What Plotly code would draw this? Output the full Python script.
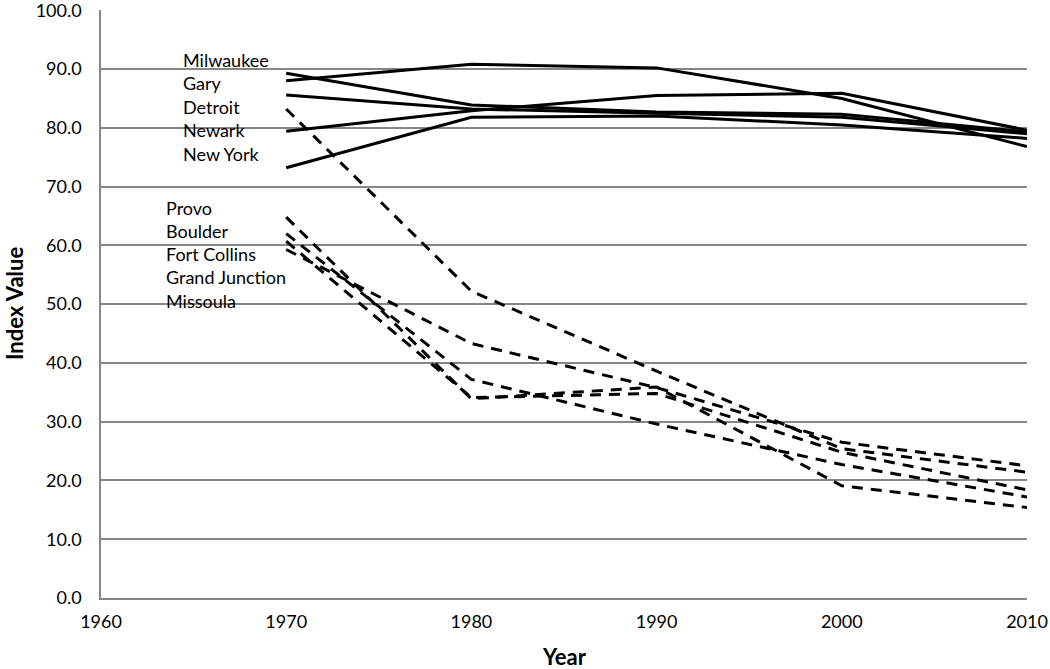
import plotly.graph_objects as go

years = [1970, 1980, 1990, 2000, 2010]

solid_names = ["Milwaukee", "Gary", "Detroit", "Newark", "New York"]
solid_values = [
    [88.0, 90.8, 90.2, 85.0, 76.8],
    [89.3, 83.9, 82.7, 82.3, 79.3],
    [85.6, 83.2, 82.5, 81.8, 79.0],
    [79.4, 82.9, 85.5, 85.9, 79.6],
    [73.2, 81.8, 82.0, 80.5, 78.2],
]

dashed_names = ["Provo", "Boulder", "Fort Collins", "Grand Junction", "Missoula"]
dashed_values = [
    [83.2, 52.2, 38.6, 25.4, 21.4],
    [64.8, 33.9, 35.9, 19.1, 15.4],
    [62.0, 37.2, 29.6, 22.7, 17.2],
    [60.7, 34.1, 34.8, 24.8, 18.4],
    [59.3, 43.3, 35.8, 26.5, 22.5],
]

solid_label_y = [91.5, 87.6, 83.6, 79.7, 75.6]
dashed_label_y = [66.4, 62.5, 58.6, 54.6, 50.5]

x_ticks = [1960, 1970, 1980, 1990, 2000, 2010]
y_ticks = [0, 10, 20, 30, 40, 50, 60, 70, 80, 90, 100]

FONT = "Lato, 'Open Sans', sans-serif"

fig = go.Figure()
for name, vals in zip(solid_names, solid_values):
    fig.add_trace(go.Scatter(x=years, y=vals, mode="lines", name=name,
                             line=dict(color="black", width=3)))
for name, vals in zip(dashed_names, dashed_values):
    fig.add_trace(go.Scatter(x=years, y=vals, mode="lines", name=name,
                             line=dict(color="black", width=3, dash="11px,8px")))

annotations = []
for name, y in zip(solid_names, solid_label_y):
    annotations.append(dict(x=1964.3, y=y, xref="x", yref="y", text=name,
                            showarrow=False, xanchor="left", yanchor="middle",
                            font=dict(family=FONT, size=18, color="black")))
for name, y in zip(dashed_names, dashed_label_y):
    annotations.append(dict(x=1963.4, y=y, xref="x", yref="y", text=name,
                            showarrow=False, xanchor="left", yanchor="middle",
                            font=dict(family=FONT, size=18, color="black")))

# axis titles
annotations.append(dict(x=0.5, y=0, xref="paper", yref="paper", yshift=-43,
                        text="<b>Year</b>", showarrow=False, xanchor="center", yanchor="top",
                        font=dict(family=FONT, size=22, color="black")))
annotations.append(dict(x=0, y=0.5, xref="paper", yref="paper", xshift=-87,
                        text="<b>Index Value</b>", showarrow=False, textangle=-90,
                        xanchor="center", yanchor="middle",
                        font=dict(family=FONT, size=22, color="black")))

fig.update_layout(
    width=1050, height=669,
    margin=dict(l=101, r=23, t=10, b=71),
    paper_bgcolor="white", plot_bgcolor="white",
    showlegend=False,
    font=dict(family=FONT, size=18, color="black"),
    annotations=annotations,
    xaxis=dict(range=[1960, 2010], tickvals=x_ticks, ticktext=[str(v) for v in x_ticks],
               showgrid=False, zeroline=False, showline=True, linecolor="#868686",
               linewidth=1.5, ticks="", tickfont=dict(size=18, family=FONT),
               ticklabeloverflow="allow", ticklabelstandoff=7, automargin=False),
    yaxis=dict(range=[0, 100.05], tickvals=y_ticks, tickformat=".1f",
               showgrid=True, gridcolor="#868686", gridwidth=1.5, zeroline=False,
               showline=True, linecolor="#868686", linewidth=1.5, ticks="",
               tickfont=dict(size=18, family=FONT),
               ticklabeloverflow="allow", ticklabelstandoff=14, automargin=False),
)

fig.write_html("out.html", config={"displayModeBar": False},
               post_script="document.body.style.margin='0';document.body.style.overflow='hidden';")
